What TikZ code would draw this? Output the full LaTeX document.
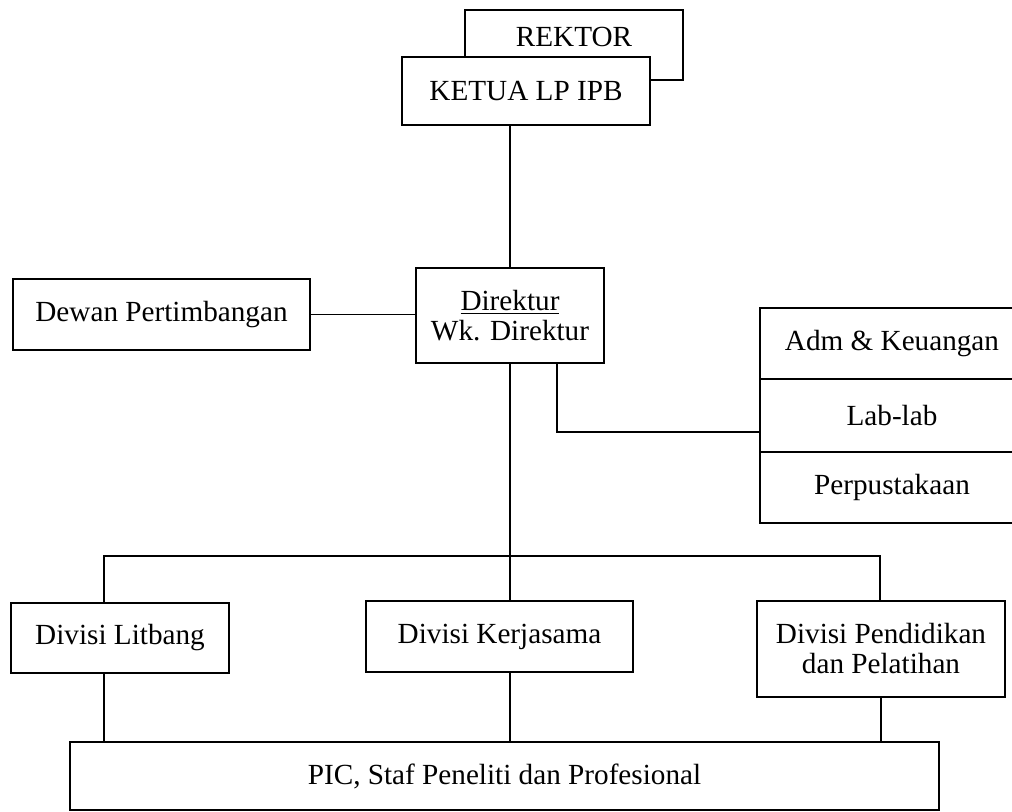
\documentclass[tikz,border=0pt]{standalone}
\usepackage{fontspec}
\setmainfont{Liberation Serif}
\begin{document}
\begin{tikzpicture}[x=0.5pt,y=-0.5pt,line width=0.8pt,
  box/.style={draw,fill=white,inner sep=0pt,align=center,
    font=\fontsize{14.6}{15}\selectfont}]
   \useasboundingbox (0,0) rectangle (1012,812);

   \node[box,minimum width=109pt,minimum height=35pt,text depth=8pt]
     (rektor) at (574,45) {REKTOR};
   \node[box,minimum width=124pt,minimum height=34pt]
     (ketua) at (526,91) {KETUA LP IPB};
   \node[box,minimum width=94pt,minimum height=47.5pt]
     (direktur) at (510,315.5) {\underline{Direktur}\\Wk. Direktur};
   \node[box,minimum width=148.5pt,minimum height=35.5pt]
     (dewan) at (161.5,314.5) {Dewan Pertimbangan};

   \node[box,minimum width=132pt,minimum height=35.5pt]
     (adm) at (892,343.5) {Adm \& Keuangan};
   \node[box,minimum width=132pt,minimum height=36.5pt]
     (lab) at (892,415.5) {Lab-lab};
   \node[box,minimum width=132pt,minimum height=35.5pt]
     (perpus) at (892,487.5) {Perpustakaan};

   \node[box,minimum width=109pt,minimum height=35pt]
     (litbang) at (120,638) {Divisi Litbang};
   \node[box,minimum width=133.5pt,minimum height=35.5pt]
     (kerjasama) at (499.5,636.5) {Divisi Kerjasama};
   \node[box,minimum width=124pt,minimum height=48pt]
     (pendidikan) at (881,649) {Divisi Pendidikan\\dan Pelatihan};
   \node[box,minimum width=434.5pt,minimum height=34pt]
     (pic) at (504.5,776) {PIC, Staf Peneliti dan Profesional};

   \coordinate (cabang) at (557,363);
   \coordinate (masuk) at (760,432);
   \coordinate (busw) at (104,556);
   \coordinate (buse) at (880,556);

   \draw (direktur.north) -- (direktur.north |- ketua.south);
   \draw (dewan.east) -- (dewan.east -| direktur.west);
   \draw (cabang) |- (masuk);
   \draw (direktur.south) -- (direktur.south |- kerjasama.north);
   \draw (busw |- litbang.north) -- (busw) -- (buse) -- (buse |- pendidikan.north);

   \draw (busw |- litbang.south) -- (busw |- pic.north);
   \draw (direktur.south |- kerjasama.south) -- (direktur.south |- pic.north);
   \draw (pendidikan.south) -- (pendidikan.south |- pic.north);
\end{tikzpicture}
\end{document}
